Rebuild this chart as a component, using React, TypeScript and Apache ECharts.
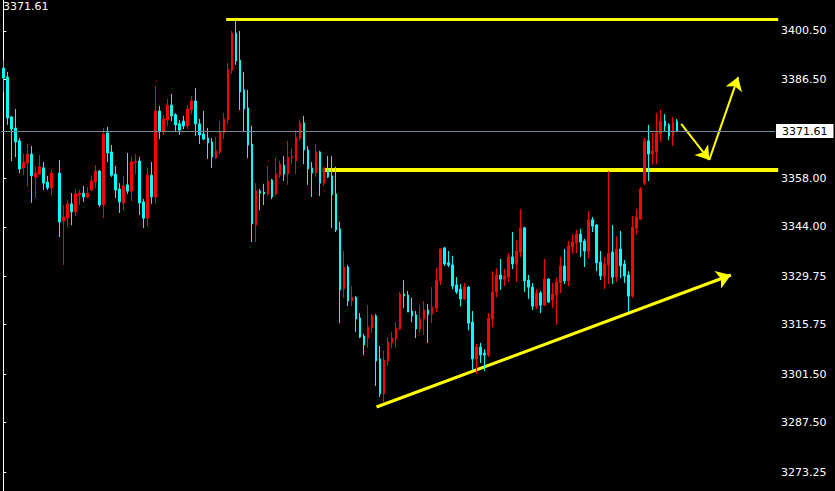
import React, { useEffect, useRef } from "react";
import * as echarts from "echarts";

// OHLC values (one entry per bar, null = empty slot)
const openPrices = [
  3389.8, 3387.2, 3375.7, 3372.5, 3368.8, 3361.0, 3362.4, 3365.0, 3358.4, 3359.2,
  3361.0, 3356.9, 3355.2, null, 3359.5, 3345.7, 3346.5, 3350.6, 3348.3, 3353.2,
  3353.7, 3352.6, 3354.6, 3356.9, 3360.1, 3350.3, 3371.1, 3365.6, 3359.2, 3354.9,
  3350.9, 3356.1, 3354.3, 3362.6, 3363.0, 3351.2, 3346.5, 3358.9, 3352.6, 3377.4,
  3371.4, 3374.8, 3379.1, 3376.3, 3373.7, 3374.5, 3373.1, 3377.7, 3380.3, 3373.7,
  3370.8, 3369.6, 3368.5, 3363.8, 3365.6, 3371.1, 3374.8, 3389.2, 3399.9, 3392.1,
  3383.5, 3378.3, 3367.9, 3344.5, 3354.3, 3354.0, 3353.5, 3357.5, 3353.5, 3358.9,
  3361.8, 3359.2, 3364.0, 3363.0, 3369.6, 3374.0, 3366.2, 3361.0, 3359.5, 3365.6,
  3356.6, 3360.4, 3358.7, 3353.5, 3343.4, 3326.1, 3332.4, 3322.6, 3323.7, 3317.7,
  3312.5, 3311.9, 3314.8, 3318.3, 3305.9, 3295.8, 3305.3, 3310.5, 3311.6, 3314.5,
  3324.6, 3324.3, 3319.7, 3318.6, 3314.5, 3317.4, 3320.0, 3318.8, 3320.6, 3328.4,
  3337.9, 3333.6, 3333.0, 3327.2, 3326.0, 3323.2, 3326.6, 3316.5, 3305.9, 3309.3,
  3307.6, 3307.0, 3317.4, 3325.2, 3330.1, 3328.9, 3329.5, 3335.3, 3333.3, 3336.7,
  3343.7, 3328.6, 3326.6, 3321.1, 3324.9, 3321.4, 3328.9, 3322.9, 3324.3, 3327.8,
  3332.7, 3328.4, 3338.2, 3339.3, 3341.9, 3339.9, 3337.0, 3346.0, 3344.5, 3333.8,
  3329.8, 3333.0, 3336.7, 3329.5, 3337.6, 3333.3, 3330.1, 3324.0, 3343.6, 3346.2,
  3356.6, 3368.8, 3365.0, 3365.6, 3370.8, 3374.5, 3373.4, 3370.2, 3374.5,
];
const closePrices = [
  3386.9, 3375.4, 3372.2, 3368.5, 3360.7, 3362.7, 3365.0, 3358.7, 3359.5, 3361.3,
  3356.6, 3355.2, 3359.5, null, 3345.4, 3346.8, 3350.6, 3348.3, 3353.5, 3353.7,
  3352.6, 3353.7, 3357.2, 3360.1, 3350.3, 3370.8, 3365.3, 3358.9, 3354.6, 3351.2,
  3355.8, 3354.3, 3362.7, 3362.9, 3350.9, 3346.5, 3358.9, 3352.6, 3377.4, 3371.4,
  3375.1, 3379.1, 3376.0, 3373.4, 3371.9, 3373.1, 3378.0, 3380.3, 3373.7, 3370.5,
  3369.3, 3368.2, 3364.1, 3365.9, 3371.4, 3375.1, 3389.5, 3399.9, 3391.8, 3382.9,
  3378.0, 3367.6, 3344.8, 3354.3, 3353.7, 3353.5, 3357.2, 3352.6, 3359.2, 3362.1,
  3359.2, 3364.1, 3364.3, 3369.9, 3374.0, 3366.2, 3360.7, 3359.5, 3365.6, 3356.6,
  3361.0, 3358.4, 3353.2, 3343.1, 3325.8, 3332.4, 3322.6, 3323.7, 3317.4, 3312.2,
  3309.9, 3315.1, 3318.3, 3305.3, 3295.8, 3305.6, 3310.8, 3311.9, 3314.8, 3324.6,
  3324.0, 3319.4, 3318.3, 3314.5, 3317.4, 3320.0, 3318.8, 3320.9, 3328.6, 3337.6,
  3333.3, 3333.0, 3326.9, 3325.2, 3323.2, 3326.6, 3316.2, 3305.9, 3309.3, 3307.0,
  3307.0, 3317.7, 3325.2, 3330.1, 3328.9, 3329.8, 3335.3, 3333.3, 3337.0, 3343.7,
  3328.4, 3326.6, 3321.1, 3324.9, 3321.4, 3328.9, 3322.3, 3324.6, 3328.1, 3332.7,
  3328.4, 3338.5, 3339.6, 3341.9, 3339.6, 3337.0, 3346.0, 3344.2, 3333.6, 3329.8,
  3333.3, 3336.4, 3329.5, 3337.6, 3332.7, 3329.8, 3324.0, 3343.9, 3346.8, 3354.9,
  3368.8, 3365.0, 3365.9, 3371.1, 3374.5, 3373.1, 3370.2, 3374.2, 3371.61,
];
const lowPrices = [
  3382.9, 3373.4, 3363.0, 3364.1, 3359.5, 3358.9, 3355.8, 3350.9, 3352.3, 3359.0,
  3354.6, 3354.6, 3353.2, null, 3341.0, 3333.0, 3343.9, 3344.5, 3347.1, 3350.3,
  3351.2, 3352.3, 3354.3, 3355.2, 3349.7, 3346.5, 3362.7, 3358.4, 3352.3, 3348.0,
  3348.8, 3353.5, 3351.4, 3359.2, 3347.4, 3343.7, 3344.2, 3350.6, 3350.9, 3369.3,
  3370.5, 3373.1, 3374.5, 3371.6, 3370.5, 3372.2, 3372.2, 3376.5, 3370.2, 3367.9,
  3369.0, 3363.6, 3361.0, 3363.6, 3365.0, 3369.3, 3373.7, 3388.1, 3390.7, 3377.7,
  3371.4, 3363.8, 3339.6, 3339.6, 3348.8, 3350.3, 3352.9, 3352.0, 3352.9, 3358.1,
  3357.2, 3356.1, 3362.1, 3359.2, 3369.0, 3362.1, 3356.1, 3352.6, 3358.4, 3352.9,
  3355.8, 3358.1, 3343.7, 3342.5, 3316.2, 3323.5, 3321.1, 3321.1, 3313.6, 3311.9,
  3307.0, 3309.0, 3313.4, 3298.1, 3294.9, 3293.4, 3304.1, 3309.0, 3309.3, 3314.2,
  3320.6, 3319.4, 3316.5, 3311.9, 3313.4, 3312.8, 3310.5, 3316.2, 3319.4, 3327.2,
  3332.7, 3332.4, 3326.0, 3324.6, 3321.1, 3322.9, 3314.2, 3302.7, 3301.5, 3304.7,
  3302.4, 3306.4, 3315.1, 3323.7, 3325.8, 3326.9, 3328.1, 3331.8, 3328.1, 3335.3,
  3325.2, 3323.2, 3320.0, 3320.3, 3319.1, 3321.1, 3322.0, 3320.6, 3315.7, 3324.9,
  3327.5, 3326.9, 3336.2, 3336.4, 3335.3, 3332.4, 3335.0, 3342.5, 3331.2, 3328.6,
  3326.0, 3327.5, 3327.5, 3328.1, 3329.2, 3327.8, 3319.4, 3323.5, 3341.9, 3346.0,
  3356.1, 3357.2, 3361.8, 3362.1, 3368.5, 3371.4, 3369.0, 3367.3, 3371.35,
];
const highPrices = [
  3392.1, 3388.7, 3376.0, 3378.0, 3369.6, 3365.0, 3367.9, 3367.3, 3361.3, 3364.7,
  3362.7, 3358.7, 3360.7, null, 3363.3, 3350.3, 3351.7, 3353.7, 3354.9, 3354.6,
  3355.8, 3355.5, 3358.7, 3361.8, 3360.4, 3372.5, 3372.8, 3367.6, 3361.5, 3356.6,
  3358.7, 3365.3, 3364.4, 3365.0, 3364.1, 3352.0, 3361.0, 3362.7, 3384.6, 3378.9,
  3376.3, 3380.9, 3382.3, 3376.8, 3374.8, 3376.0, 3379.1, 3381.7, 3384.0, 3375.1,
  3377.4, 3372.5, 3369.6, 3369.9, 3374.5, 3376.8, 3391.3, 3400.5, 3403.7, 3400.5,
  3388.7, 3383.5, 3373.1, 3356.6, 3354.9, 3356.4, 3361.5, 3357.8, 3363.9, 3363.0,
  3364.4, 3368.8, 3366.7, 3371.9, 3374.8, 3376.0, 3367.3, 3362.7, 3367.9, 3365.9,
  3361.3, 3364.4, 3364.4, 3361.3, 3345.4, 3337.0, 3333.0, 3326.9, 3324.0, 3319.1,
  3313.1, 3321.4, 3318.8, 3318.8, 3309.6, 3308.2, 3312.2, 3313.6, 3316.5, 3325.2,
  3328.6, 3325.5, 3323.5, 3319.7, 3321.4, 3322.6, 3321.7, 3326.6, 3332.1, 3337.9,
  3338.2, 3337.0, 3335.6, 3329.5, 3327.5, 3327.8, 3326.9, 3319.7, 3310.2, 3310.5,
  3308.7, 3319.1, 3331.2, 3332.1, 3334.7, 3331.8, 3336.2, 3342.5, 3340.2, 3349.1,
  3344.0, 3330.1, 3327.8, 3326.0, 3325.5, 3334.7, 3329.2, 3327.8, 3329.2, 3335.3,
  3337.6, 3339.9, 3341.9, 3343.1, 3343.4, 3340.5, 3348.6, 3346.8, 3344.8, 3337.0,
  3335.3, 3360.1, 3344.5, 3341.3, 3342.8, 3334.4, 3331.2, 3347.1, 3349.1, 3355.5,
  3369.6, 3373.4, 3371.1, 3376.8, 3377.7, 3376.5, 3373.9, 3375.7, 3375.1,
];
const emptySlotsRight = 24;

const currentPrice = 3371.61;
const yMin = 3267.77;
const yMax = 3409.44;
const yTickValues = [3400.5, 3386.5, 3358.0, 3344.0, 3329.75, 3315.75, 3301.5, 3287.5, 3273.25];

// Annotation lines in [bar position, price]
const resistanceLine = [[55.6, 3404.0], [193.3, 3404.0]];
const breakoutLine = [[79.7, 3360.5], [193.3, 3360.5]];
const trendLine = [[93.1, 3292.0], [181.5, 3330.1]];
const pullbackArrow = [[169.1, 3373.7], [176.1, 3363.3]];
const riseArrow = [[176.1, 3363.3], [183.3, 3387.2]];

const FONT = "DejaVu Sans";

export default function App() {
  const ref = useRef<HTMLDivElement>(null);

  useEffect(() => {
    if (!ref.current) return;
    const chart = echarts.init(ref.current, null, { renderer: "svg" });

    const candles: any[] = openPrices.map((o, i) =>
      o == null ? ["-", "-", "-", "-"] : [o, closePrices[i], lowPrices[i], highPrices[i]]
    );
    for (let i = 0; i < emptySlotsRight; i++) candles.push(["-", "-", "-", "-"]);
    const categories = candles.map((_, i) => String(i));
    const slotCount = categories.length;

    chart.setOption({
      animation: false,
      backgroundColor: "#000000",
      grid: { left: 1.3, right: 60, top: 0, bottom: 0, containLabel: false },
      xAxis: [
        {
          type: "category",
          data: categories,
          boundaryGap: true,
          show: false,
        },
        {
          type: "value",
          min: -0.5,
          max: slotCount - 0.5,
          show: false,
        },
      ],
      yAxis: {
        type: "value",
        position: "right",
        min: yMin,
        max: yMax,
        scale: true,
        splitLine: { show: false },
        axisLine: { show: true, lineStyle: { color: "#ffffff", width: 1 } },
        axisTick: {
          show: true,
          length: 3,
          lineStyle: { color: "#ffffff" },
          customValues: yTickValues,
        },
        axisLabel: {
          show: true,
          color: "#ffffff",
          fontFamily: FONT,
          fontSize: 11,
          margin: 6,
          customValues: yTickValues,
          formatter: (v: number) => v.toFixed(2),
        },
      },
      graphic: [
        {
          type: "text",
          left: 3,
          top: 1,
          style: { text: currentPrice.toFixed(2), fill: "#ffffff", font: `11px "${FONT}"` },
        },
      ],
      series: [
        {
          type: "candlestick",
          xAxisIndex: 0,
          yAxisIndex: 0,
          data: candles,
          barWidth: 2,
          itemStyle: {
            color: "#ff0000",
            color0: "#00ffff",
            borderColor: "#ff0000",
            borderColor0: "#00ffff",
            borderWidth: 1,
          },
          markLine: {
            silent: true,
            symbol: "none",
            animation: false,
            lineStyle: { color: "#778899", width: 1, type: "solid" },
            label: {
              show: true,
              position: "end",
              distance: 1,
              formatter: currentPrice.toFixed(2),
              color: "#000000",
              backgroundColor: "#ffffff",
              fontFamily: FONT,
              fontSize: 11,
              lineHeight: 13,
              padding: [1, 6, 0, 6],
            },
            data: [{ yAxis: currentPrice }],
          },
        },
        {
          type: "lines",
          coordinateSystem: "cartesian2d",
          xAxisIndex: 1,
          yAxisIndex: 0,
          clip: false,
          silent: true,
          symbol: ["none", "none"],
          lineStyle: { color: "#ffff00", width: 3, opacity: 1, curveness: 0 },
          data: [{ coords: resistanceLine }],
        },
        {
          type: "lines",
          coordinateSystem: "cartesian2d",
          xAxisIndex: 1,
          yAxisIndex: 0,
          clip: false,
          silent: true,
          symbol: ["none", "none"],
          lineStyle: { color: "#ffff00", width: 4, opacity: 1, curveness: 0 },
          data: [{ coords: breakoutLine }],
        },
        {
          type: "lines",
          coordinateSystem: "cartesian2d",
          xAxisIndex: 1,
          yAxisIndex: 0,
          clip: false,
          silent: true,
          symbol: ["none", "arrow"],
          symbolSize: [11, 14],
          lineStyle: { color: "#ffff00", width: 3, opacity: 1, curveness: 0 },
          data: [{ coords: trendLine }],
        },
        {
          type: "lines",
          coordinateSystem: "cartesian2d",
          xAxisIndex: 1,
          yAxisIndex: 0,
          clip: false,
          silent: true,
          symbol: ["none", "arrow"],
          symbolSize: [10, 13],
          lineStyle: { color: "#ffff00", width: 2, opacity: 1, curveness: 0 },
          data: [{ coords: pullbackArrow }, { coords: riseArrow }],
        },
      ],
    });

    return () => chart.dispose();
  }, []);

  return (
    <div
      ref={ref}
      style={{ position: "fixed", left: 0, top: 0, width: 835, height: 491, background: "#000" }}
    />
  );
}
